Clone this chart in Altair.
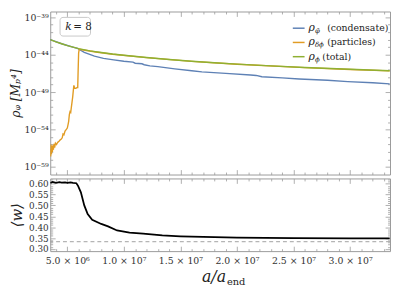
import altair as alt
import pandas as pd

# ---------------- data ----------------
A_TOTAL = [3.49e6, 4.0e6, 4.5e6, 5.0e6, 5.5e6, 6.0e6, 7.0e6, 8.0e6, 9.0e6, 1.0e7, 1.2e7,
           1.4e7, 1.6e7, 1.8e7, 2.0e7, 2.3e7, 2.6e7, 3.0e7, 3.35e7]
LOG_TOTAL = [-42.0, -42.3, -42.55, -42.8, -43.0, -43.2, -43.5, -43.72, -43.92, -44.08, -44.38,
             -44.65, -44.88, -45.08, -45.27, -45.5, -45.72, -45.96, -46.15]

A_COND = [3.49e6, 4.5e6, 5.5e6, 5.9e6, 6.1e6, 6.5e6, 7.4e6, 8.2e6, 9.1e6, 1.0e7, 1.08e7, 1.1e7,
          1.16e7, 1.18e7, 1.23e7, 1.3e7, 1.45e7, 1.6e7, 1.69e7, 1.9e7, 2.12e7, 2.17e7, 2.22e7,
          2.4e7, 2.55e7, 2.8e7, 2.98e7, 3.2e7, 3.35e7]
LOG_COND = [-42.0, -42.55, -43.0, -43.18, -43.35, -43.7, -44.2, -44.5, -44.7, -44.88, -45.0, -45.15,
            -45.22, -45.35, -45.5, -45.6, -45.9, -46.15, -46.3, -46.5, -46.72, -46.78, -46.95,
            -47.1, -47.25, -47.42, -47.6, -47.75, -47.9]

A_PART = [3.50e6, 3.53e6, 3.56e6, 3.60e6, 3.64e6, 3.68e6, 3.72e6, 3.77e6, 3.82e6, 3.88e6, 3.95e6,
          4.05e6, 4.15e6, 4.25e6, 4.35e6, 4.45e6, 4.55e6, 4.62e6, 4.70e6, 4.80e6, 4.90e6, 5.00e6,
          5.07e6, 5.12e6, 5.18e6, 5.24e6, 5.30e6, 5.36e6, 5.42e6, 5.48e6, 5.53e6, 5.58e6, 5.62e6,
          5.66e6, 5.75e6, 5.85e6, 5.92e6, 5.96e6, 6.00e6, 6.05e6, 6.3e6, 6.7e6, 7.5e6, 9.0e6,
          1.2e7, 1.6e7, 2.0e7, 2.6e7, 3.0e7, 3.35e7]
LOG_PART = [-56.6, -57.6, -56.0, -57.3, -56.2, -57.0, -56.1, -56.7, -55.9, -56.4, -55.8,
            -56.0, -55.7, -55.6, -55.4, -55.3, -55.1, -54.6, -54.7, -54.2, -54.0, -53.8,
            -53.3, -52.9, -52.0, -51.6, -51.7, -51.0, -50.3, -49.6, -48.8, -48.1, -48.3,
            -48.5, -48.5, -48.4, -48.4, -46.0, -43.8, -43.3, -43.35, -43.45, -43.65, -43.95,
            -44.4, -44.9, -45.29, -45.74, -45.98, -46.17]

A_W = [3.49e6, 3.7e6, 4.0e6, 4.3e6, 4.5e6, 4.8e6, 5.0e6, 5.3e6, 5.5e6, 5.8e6, 5.95e6, 6.2e6,
       6.5e6, 6.8e6, 7.2e6, 8.0e6, 8.6e6, 9.4e6, 1.05e7, 1.17e7, 1.34e7, 1.5e7, 1.7e7, 2.0e7,
       2.5e7, 3.0e7, 3.35e7]
W_VAL = [0.603, 0.608, 0.604, 0.607, 0.605, 0.606, 0.604, 0.606, 0.604, 0.602, 0.59, 0.56,
         0.50, 0.46, 0.434, 0.415, 0.404, 0.385, 0.375, 0.370, 0.362, 0.358, 0.355, 0.352,
         0.350, 0.349, 0.349]
W_REF = [1 / 3]

SERIES = ["condensate", "particles", "total"]
COLORS = ["#5e81b5", "#e19c24", "#8fb032"]
LEG_SUB = ["φ̄", "δϕ", "ϕ"]
LEG_TEXT = ["(condensate)", "(particles)", "(total)"]

TOP_TICKS = [-59, -54, -49, -44, -39]
TOP_LABELS = ["10⁻⁵⁹", "10⁻⁵⁴", "10⁻⁴⁹", "10⁻⁴⁴", "10⁻³⁹"]
X_TICKS = [5e6, 1e7, 1.5e7, 2e7, 2.5e7, 3e7]
X_LABELS = ["5.0 × 10⁶", "1.0 × 10⁷", "1.5 × 10⁷", "2.0 × 10⁷", "2.5 × 10⁷", "3.0 × 10⁷"]
W_TICKS = [0.30, 0.35, 0.40, 0.45, 0.50, 0.55, 0.60]

# ---------------- layout / style ----------------
X_DOM = [3.49e6, 3.353e7]
TOP_DOM = [-60.0, -38.25]
BOT_DOM = [0.29, 0.624]
W, H1, H2 = 346, 166, 74
FONT = "DejaVu Serif"
FRAME = "#9a9a9a"
LABEL = "#333333"
TXT = "#222222"

X_MINOR = [i * 1e6 for i in range(4, 34) if i % 5 != 0]
TOP_MINOR = [v for v in range(-59, -38) if v not in TOP_TICKS]
BOT_MINOR = [round(0.30 + 0.01 * i, 2) for i in range(0, 33) if i % 5 != 0]


def label_expr(vals, labs):
    expr = "''"
    for v, l in reversed(list(zip(vals, labs))):
        expr = f"datum.value == {v} ? '{l}' : " + expr
    return expr


def sc(dom):
    return alt.Scale(domain=dom, nice=False, zero=False)


def tick_layer(ydom, xvals, yvals, size, hh, far):
    df = pd.DataFrame({"x": [sum(X_DOM) / 2], "y": [sum(ydom) / 2]})
    common = dict(labels=False, domain=False, grid=False, title=None, tickSize=size,
                  tickColor=FRAME, tickWidth=0.8)
    return alt.Chart(df).mark_point(opacity=0).encode(
        x=alt.X("x:Q", scale=sc(X_DOM),
                axis=alt.Axis(orient="bottom" if far else "top", offset=-hh, values=xvals, **common)),
        y=alt.Y("y:Q", scale=sc(ydom),
                axis=alt.Axis(orient="left" if far else "right", offset=-W, values=yvals, **common)),
    )


def all_ticks(ydom, ymaj, ymin, hh):
    return [tick_layer(ydom, X_TICKS, ymaj, 5, hh, False),
            tick_layer(ydom, X_MINOR, ymin, 2.5, hh, False),
            tick_layer(ydom, X_TICKS, ymaj, 5, hh, True),
            tick_layer(ydom, X_MINOR, ymin, 2.5, hh, True)]


def series_layer(a, v, color, yaxis=None):
    df = pd.DataFrame({"a": a, "v": v})
    return alt.Chart(df).mark_line(color=color, strokeWidth=1.4, clip=True).encode(
        x=alt.X("a:Q", scale=sc(X_DOM), axis=None),
        y=alt.Y("v:Q", scale=sc(TOP_DOM), axis=yaxis),
    )


def txt(text, x, y, size, align="left", style="normal", baseline="middle"):
    return alt.Chart(dummy).mark_text(text=text, font=FONT, fontSize=size, fontStyle=style,
                                      align=align, baseline=baseline, color=TXT).encode(
        x=alt.value(x), y=alt.value(y))


dummy = pd.DataFrame({"d": [0]})

top_axis = alt.Axis(orient="left", values=TOP_TICKS, labelExpr=label_expr(TOP_TICKS, TOP_LABELS),
                    tickSize=0, domain=False, grid=False, title="ρᵩ [Mₚ⁴]", titleFont=FONT,
                    titleFontSize=12.5, titleFontStyle="italic", titleFontWeight="normal",
                    titleColor=TXT, labelFont=FONT, labelFontSize=9.5, labelColor=LABEL,
                    labelPadding=2, titlePadding=2)

top_layers = all_ticks(TOP_DOM, TOP_TICKS, TOP_MINOR, H1)
top_layers.append(series_layer(A_COND, LOG_COND, COLORS[0], top_axis))
top_layers.append(series_layer(A_PART, LOG_PART, COLORS[1]))
top_layers.append(series_layer(A_TOTAL, LOG_TOTAL, COLORS[2]))

# k = 8 box
top_layers.append(alt.Chart(dummy).mark_rect(fill="white", stroke="#c8c8c8", strokeWidth=1,
                                              cornerRadius=3).encode(
    x=alt.value(10), x2=alt.value(41), y=alt.value(6), y2=alt.value(25)))
top_layers.append(txt("k", 18.5, 15.5, 11, align="center", style="italic"))
top_layers.append(txt("= 8", 23.5, 15.5, 10.5))

# legend
for i, (col, sub, t) in enumerate(zip(COLORS, LEG_SUB, LEG_TEXT)):
    yy = 17 + 14.5 * i
    top_layers.append(alt.Chart(dummy).mark_rule(color=col, strokeWidth=1.5).encode(
        x=alt.value(W - 99), x2=alt.value(W - 87), y=alt.value(yy)))
    top_layers.append(txt("ρ", W - 83, yy, 11, style="italic"))
    top_layers.append(txt(sub, W - 76.5, yy + 3, 7, style="italic"))
    top_layers.append(txt(t, W - 64 if len(sub) > 1 else W - 69, yy, 9.5))

top = alt.layer(*top_layers).resolve_scale(x="independent", y="independent").properties(
    width=W, height=H1)

# bottom panel
x_axis = alt.Axis(orient="bottom", values=X_TICKS, labelExpr=label_expr(X_TICKS, X_LABELS),
                  tickSize=0, domain=False, grid=False, title=None, labelFont=FONT,
                  labelFontSize=9.5, labelColor=LABEL, labelPadding=5)
w_axis = alt.Axis(orient="left", values=W_TICKS, format=".2f", tickSize=0, domain=False, grid=False,
                  title="⟨w⟩", titleFont=FONT, titleFontSize=15, titleFontStyle="italic",
                  titleFontWeight="normal", titleColor=TXT, labelFont=FONT, labelFontSize=9,
                  labelColor=LABEL, labelPadding=2, titlePadding=4)

bot_layers = all_ticks(BOT_DOM, W_TICKS, BOT_MINOR, H2)
bot_layers.append(alt.Chart(pd.DataFrame({"w": W_REF})).mark_rule(
    color="#a0a0a0", strokeWidth=1, strokeDash=[4, 3]).encode(
    y=alt.Y("w:Q", scale=sc(BOT_DOM), axis=None)))
bot_layers.append(alt.Chart(pd.DataFrame({"a": A_W, "w": W_VAL})).mark_line(
    color="black", strokeWidth=1.8, clip=True).encode(
    x=alt.X("a:Q", scale=sc(X_DOM), axis=x_axis),
    y=alt.Y("w:Q", scale=sc(BOT_DOM), axis=w_axis)))
bot_layers.append(txt("a/a", W / 2 + 6, H2 + 31, 16, align="right", style="italic",
                      baseline="alphabetic"))
bot_layers.append(txt("end", W / 2 + 7, H2 + 34, 10, baseline="alphabetic"))

bottom = alt.layer(*bot_layers).resolve_scale(x="independent", y="independent").properties(
    width=W, height=H2)

chart = alt.vconcat(top, bottom, spacing=2, padding=0).configure_view(
    stroke=FRAME, strokeWidth=1)

chart.save("out.html", embed_options={"renderer": "svg", "actions": False})
